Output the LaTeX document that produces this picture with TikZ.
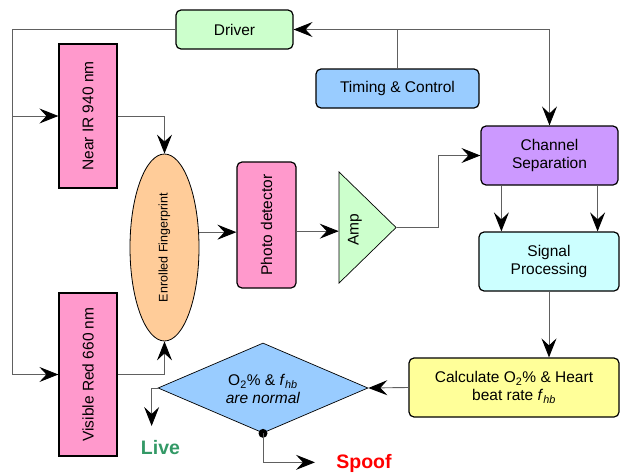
\documentclass[tikz,border=0pt]{standalone}
\usepackage{fontspec}
\setmainfont{Liberation Sans}
\usetikzlibrary{arrows.meta,shapes.geometric,calc}
\definecolor{cgreen}{HTML}{CCFFCC}
\definecolor{cblue}{HTML}{99CCFF}
\definecolor{cpurple}{HTML}{CC99FF}
\definecolor{ccyan}{HTML}{CCFFFF}
\definecolor{cyellow}{HTML}{FFFF99}
\definecolor{cpink}{HTML}{FF99CC}
\definecolor{corange}{HTML}{FFCC99}
\definecolor{clive}{HTML}{339966}
\definecolor{cline}{HTML}{606060}
\tikzset{
  box/.style={draw=black, line width=1.2pt, rounded corners=5pt, align=center, inner sep=0pt,
    font=\fontsize{15.5}{18}\selectfont},
  sqbox/.style={draw=black, line width=1.2pt, inner sep=0pt, font=\fontsize{15.5}{18}\selectfont},
  conn/.style={draw=cline, line width=0.9pt, -{Stealth[length=19pt,width=15pt,inset=7pt,color=black]}},
  plain/.style={draw=cline, line width=0.9pt},
  verdict/.style={font=\fontsize{19.5}{22}\selectfont\bfseries, inner sep=0pt}
}
\begin{document}
\begin{tikzpicture}[x=1pt,y=-1pt]
\useasboundingbox (0,0) rectangle (622,474);
% nodes
\node[box, fill=cgreen, minimum width=117pt, minimum height=39pt] (drv) at (234.5,29.5) {Driver};
\node[box, fill=cblue, minimum width=163pt, minimum height=39pt] (tc) at (397.5,88.5) {Timing \& Control};
\node[box, fill=cpurple, minimum width=137pt, minimum height=59pt] (cs) at (549.5,155.5) {Channel\\Separation};
\node[box, fill=ccyan, minimum width=140pt, minimum height=59pt] (sp) at (549,261.5) {Signal\\Processing};
\node[box, fill=cyellow, minimum width=210pt, minimum height=59pt] (calc) at (514,387.5)
  {Calculate O\textsubscript{2}\% \& Heart\\beat rate \textit{f}\textsubscript{\textit{hb}}};
\node[sqbox, fill=cpink, minimum width=58pt, minimum height=144pt] (nir) at (88,116) {\rotatebox{90}{Near IR 940 nm}};
\node[sqbox, fill=cpink, minimum width=58pt, minimum height=163pt] (vr) at (88,374.5) {\rotatebox{90}{Visible Red 660 nm}};
\node[draw=black, line width=0.8pt, fill=corange, ellipse, minimum width=69pt, minimum height=187pt, inner sep=0pt] (ell) at (164.5,247.5)
  {\rotatebox{90}{\fontsize{12.5}{14}\selectfont Enrolled Fingerprint}};
\node[box, fill=cpink, minimum width=59pt, minimum height=126pt] (pd) at (266.5,225) {\rotatebox{90}{Photo detector}};
\node[draw=black, line width=0.7pt, fill=cgreen, isosceles triangle, isosceles triangle stretches,
  shape border rotate=0, minimum width=111pt, minimum height=57pt, inner sep=0pt, anchor=apex] (amp) at (397,227.5) {};
\node[font=\fontsize{15.5}{18}\selectfont, inner sep=0pt] (amptxt) at (355,230) {\rotatebox{90}{Amp}};
\node[draw=black, line width=0.7pt, fill=cblue, diamond, aspect=2.33, minimum width=210pt, minimum height=90pt, inner sep=0pt] (dia) at (263,388) {};
\node[font=\fontsize{15.5}{18}\selectfont, align=center, inner sep=0pt] (diatxt) at (263,389)
  {O\textsubscript{2}\% \& \textit{f}\textsubscript{\textit{hb}}\\\textit{are normal}};
\node[verdict, text=clive] (live) at (160.5,447.5) {Live};
\node[verdict, text=red] (spoof) at (364,463) {Spoof};
% connectors
\coordinate (lb) at (12,29.5);
\draw[plain] (drv.west) -- (lb);
\draw[conn] (lb) |- (nir.west);
\draw[conn] (lb) |- (vr.west);
\draw[conn] (tc.north) |- (drv.east);
\draw[conn] (tc.north |- drv.east) -| (cs.north);
\draw[conn] (nir.east) -| (ell.north);
\draw[conn] (vr.east) -| (ell.south);
\draw[conn] (ell.24) -- (ell.24 -| pd.west);
\draw[conn] ([yshift=1pt]ell.24 -| pd.east) -- ([yshift=1pt]ell.24 -| amp.west);
\draw[conn] (amp.apex) -- ++(41,0) |- (cs.west);
\coordinate (c1) at ($(cs.south west)+(21,0)$);
\coordinate (c2) at ($(cs.south east)+(-21,0)$);
\draw[conn] (c1) -- (c1 |- sp.north);
\draw[conn] (c2) -- (c2 |- sp.north);
\draw[conn] (sp.south) -- (sp.south |- calc.north);
\draw[conn] (calc.west) -- (dia.east);
\draw[conn] (dia.west) -- ++(-6,0) -- ++(0,38);
\fill (dia.south) circle (4.5pt);
\draw[conn] (dia.south) -- ++(0,29) -- ++(52,0);
\end{tikzpicture}
\end{document}
